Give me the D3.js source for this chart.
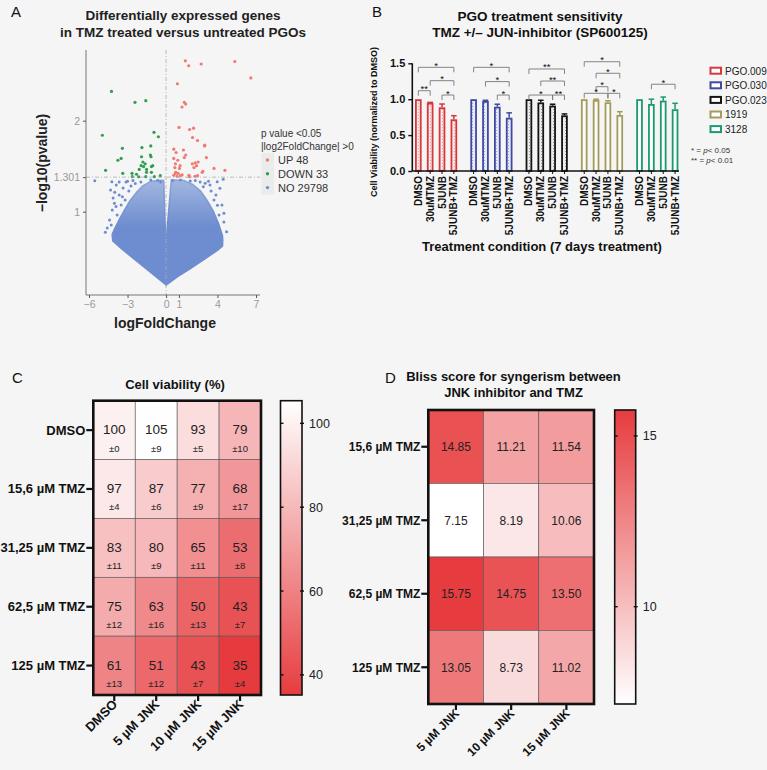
<!DOCTYPE html>
<html><head><meta charset="utf-8">
<script src="https://cdn.jsdelivr.net/npm/d3@7"></script>
<style>
body{margin:0;background:#f5f5f5;}
svg{display:block;font-family:"Liberation Sans",Arial,Helvetica,sans-serif;}
</style></head><body>
<svg id="fig" width="767" height="770"></svg>
<script>
// ---------------- DATA ----------------
// Panel A: volcano plot (logFoldChange, -log10 p)
const upGenes = [[1.50,3.155],[1.76,3.04],[2.73,3.08],[5.35,3.14],[6.60,2.77],[0.88,2.65],[1.42,2.30],[1.53,2.27],[1.24,2.22],[1.01,1.90],[1.83,1.87],[2.14,1.89],[2.06,1.76],[2.45,1.72],[3.01,1.66],[2.99,1.65],[0.60,1.61],[0.78,1.57],[1.35,1.60],[1.53,1.54],[1.42,1.51],[0.60,1.50],[0.91,1.48],[3.14,1.51],[0.73,1.44],[1.09,1.42],[2.04,1.44],[2.27,1.45],[2.50,1.46],[0.68,1.40],[1.04,1.39],[2.17,1.40],[2.37,1.42],[3.73,1.39],[4.58,1.37],[0.75,1.35],[0.94,1.34],[2.81,1.35],[0.60,1.32],[1.12,1.316],[1.78,1.32],[2.45,1.316],[0.73,1.34],[0.86,1.31],[1.25,1.325],[1.81,1.306],[2.25,1.31],[2.86,1.36]];
const downGenes = [[-4.25,2.50],[-2.42,2.30],[-1.58,2.33],[-4.96,1.79],[-0.94,1.83],[-0.60,1.77],[-3.40,1.62],[-3.75,1.48],[-3.50,1.50],[-1.88,1.63],[-1.19,1.65],[-1.91,1.52],[-1.22,1.54],[-1.17,1.52],[-1.81,1.46],[-1.63,1.44],[-1.75,1.41],[-1.14,1.41],[-4.71,1.37],[-3.37,1.34],[-2.09,1.38],[-1.52,1.38],[-1.52,1.35],[-1.14,1.35],[-2.63,1.306],[-2.14,1.305],[-1.58,1.306],[-0.91,1.306],[-0.45,1.316],[-2.65,1.34],[-1.94,1.42],[-1.04,1.42],[-2.30,1.33]];
// envelope of the dense non-significant cloud
const noCloudLeft = [[0,0.572],[-1.2,0.63],[-2.4,0.692],[-3.5,0.756],[-4.15,0.80],[-4.2,0.84],[-4.0,0.88],[-3.6,0.95],[-3.2,1.02],[-2.8,1.09],[-2.3,1.16],[-1.8,1.22],[-1.2,1.26],[-0.6,1.27],[-0.17,1.27],[-0.05,0.85]];
const noCloudRight = [[0,0.572],[0.9,0.61],[1.8,0.644],[3.0,0.697],[4.0,0.745],[4.4,0.77],[4.4,0.83],[4.1,0.91],[3.7,1.0],[3.2,1.09],[2.7,1.17],[2.1,1.23],[1.4,1.27],[0.4,1.275],[0.05,0.85]];
const noScatter = [[-5.55,1.266],[-4.73,0.855],[-4.58,0.883],[-4.40,0.939],[-4.27,0.904],[-4.19,1.013],[-4.02,1.066],[-4.12,1.110],[-4.32,1.180],[-4.22,1.257],[-3.88,1.226],[-3.65,1.254],[-3.35,1.198],[-3.12,1.254],[-2.73,1.217],[-3.65,1.136],[-3.19,1.093],[-3.81,0.975],[-3.5,1.052],[-2.58,1.268],[-1.96,1.254],[-1.19,1.273],[-0.65,1.268],[-0.42,1.254],[-3.9,1.04],[-3.4,1.12],[-2.9,1.17],[-2.4,1.24],[-4.0,1.16],[-3.0,1.26],
  [4.45,1.280],[3.98,1.257],[4.19,1.195],[3.88,1.136],[4.5,0.988],[4.71,0.858],[4.35,1.052],[3.42,1.226],[3.04,1.243],[2.65,1.254],[2.27,1.268],[1.88,1.264],[1.12,1.273],[0.5,1.268],[3.73,1.093],[4.12,0.975],[4.5,0.924],[4.35,0.806],[3.5,1.17],[2.9,1.21],[4.0,1.05],[3.3,1.26]];
const volcanoXTicks = [-6,-3,0,1,4,7];
const volcanoYTicks = [1,1.301,2];
const volcanoLegend = ["UP 48","DOWN 33","NO 29798"];

// Panel B: bar chart
const pgoLines = ["PGO.009","PGO.030","PGO.023","1919","3128"];
const treatments = ["DMSO","30uMTMZ","5JUNB","5JUNB+TMZ"];
const viabilityMean = [[1,0.95,0.887,0.72],[1,0.975,0.896,0.742],[1,0.955,0.91,0.775],[1,0.99,0.957,0.78],[1,0.933,0.98,0.86]];
const viabilityErr = [[0,0.006,0.046,0.05],[0,0.01,0.034,0.068],[0,0.03,0.02,0.02],[0,0.01,0.022,0.046],[0,0.067,0.05,0.083]];
const viabTicks = [0,0.5,1.0,1.5];
const sigGroup = [0,0,0,0, 1,1,1, 2,2,2,2, 3,3,3,3,3, 4];
const sigFrom = ["DMSO","30uMTMZ","DMSO","5JUNB", "DMSO","30uMTMZ","5JUNB", "DMSO","30uMTMZ","DMSO","5JUNB", "DMSO","30uMTMZ","30uMTMZ","DMSO","5JUNB", "30uMTMZ"];
const sigTo = ["5JUNB+TMZ","5JUNB+TMZ","30uMTMZ","5JUNB+TMZ", "5JUNB+TMZ","5JUNB+TMZ","5JUNB+TMZ", "5JUNB+TMZ","5JUNB+TMZ","5JUNB","5JUNB+TMZ", "5JUNB+TMZ","5JUNB+TMZ","5JUNB","5JUNB","5JUNB+TMZ", "5JUNB+TMZ"];
const sigLabel = ["*","*","**","*", "*","*","*", "**","**","*","**", "*","*","*","*","*", "*"];
const sigLevel = [1.444,1.258,1.118,1.058, 1.444,1.245,1.058, 1.421,1.253,1.058,1.058, 1.522,1.361,1.174,1.082,1.082, 1.208];

// Panel C: viability heatmap
const rowsC = ["DMSO","15,6 µM TMZ","31,25 µM TMZ","62,5 µM TMZ","125 µM TMZ"];
const colsC = ["DMSO","5 µM JNK","10 µM JNK","15 µM JNK"];
const cellViab = [[100,105,93,79],[97,87,77,68],[83,80,65,53],[75,63,50,43],[61,51,43,35]];
const cellViabSD = [[0,9,5,10],[4,6,9,17],[11,9,11,8],[12,16,13,7],[13,12,7,4]];
const viabBarTicks = [100,80,60,40];

// Panel D: Bliss heatmap
const rowsD = ["15,6 µM TMZ","31,25 µM TMZ","62,5 µM TMZ","125 µM TMZ"];
const colsD = ["5 µM JNK","10 µM JNK","15 µM JNK"];
const bliss = [[14.85,11.21,11.54],[7.15,8.19,10.06],[15.75,14.75,13.50],[13.05,8.73,11.02]];
const blissTicks = [15,10];

// ---------------- DRAW ----------------
const svg = d3.select("#fig");
svg.append("rect").attr("width",767).attr("height",770).attr("fill","#f5f5f5");
const defs = svg.append("defs");

function label(t,x,y){svg.append("text").attr("x",x).attr("y",y).attr("font-size",15).attr("fill","#111").text(t);}
label("A",11,17); label("B",372,17); label("C",12,383); label("D",385,383);

// ===== Panel A =====
(function(){
  const g = svg.append("g");
  const x = d3.scaleLinear().domain([-6,7]).range([89,256]);
  const y = d3.scaleLog().domain([1,2]).range([211.7,120.7]);
  const cBlue="#6d8dd0", cRed="#f07a72", cGreen="#2f9e4f";
  g.append("text").attr("x",183).attr("y",20).attr("text-anchor","middle").attr("font-weight","bold").attr("font-size",13.5).attr("fill","#222").text("Differentially expressed genes");
  g.append("text").attr("x",183).attr("y",36.5).attr("text-anchor","middle").attr("font-weight","bold").attr("font-size",13.5).attr("fill","#222").text("in TMZ treated versus untreated PGOs");
  const gradA = defs.append("linearGradient").attr("id","cloudFade").attr("gradientUnits","userSpaceOnUse").attr("x1",0).attr("x2",0).attr("y1",y(0.572)).attr("y2",y(1.28));
  gradA.append("stop").attr("offset",0).attr("stop-color",cBlue).attr("stop-opacity",1);
  gradA.append("stop").attr("offset",0.55).attr("stop-color",cBlue).attr("stop-opacity",1);
  gradA.append("stop").attr("offset",1).attr("stop-color",cBlue).attr("stop-opacity",0.6);
  const line = d3.line().x(d=>x(d[0])).y(d=>y(d[1]));
  [noCloudLeft,noCloudRight].forEach(p=>{
    g.append("path").attr("d",line(p)+"Z").attr("fill","url(#cloudFade)").attr("stroke","url(#cloudFade)").attr("stroke-width",1.5).attr("stroke-linejoin","round");
  });
  g.selectAll(".ns").data(noScatter).join("circle").attr("cx",d=>x(d[0])).attr("cy",d=>y(d[1])).attr("r",1.5).attr("fill",cBlue);
  g.selectAll(".up").data(upGenes).join("circle").attr("cx",d=>x(d[0])).attr("cy",d=>y(d[1])).attr("r",1.6).attr("fill",cRed);
  g.selectAll(".dn").data(downGenes).join("circle").attr("cx",d=>x(d[0])).attr("cy",d=>y(d[1])).attr("r",1.6).attr("fill",cGreen);
  // threshold lines
  g.append("line").attr("x1",x(0)).attr("x2",x(0)).attr("y1",50).attr("y2",295).attr("stroke","#aaa").attr("stroke-dasharray","4,2,1,2").attr("stroke-width",0.8);
  g.append("line").attr("x1",86).attr("x2",260).attr("y1",y(1.301)).attr("y2",y(1.301)).attr("stroke","#aaa").attr("stroke-dasharray","4,2,1,2").attr("stroke-width",0.8);
  // axes
  g.append("line").attr("x1",86).attr("x2",86).attr("y1",50).attr("y2",295).attr("stroke","#555").attr("stroke-width",0.8);
  g.append("line").attr("x1",86).attr("x2",260).attr("y1",295).attr("y2",295).attr("stroke","#555").attr("stroke-width",0.8);
  const xa = g.append("g").attr("transform","translate(0,295)").call(d3.axisBottom(x).tickValues(volcanoXTicks).tickSize(3).tickFormat(d3.format("d")));
  xa.select(".domain").remove();
  xa.selectAll("line").attr("stroke","#555");
  xa.selectAll("text").attr("fill","#999").attr("font-size",10.5).attr("font-family","Liberation Sans, Arial, sans-serif");
  const ya = g.append("g").attr("transform","translate(86,0)").call(d3.axisLeft(y).tickValues(volcanoYTicks).tickSize(3).tickFormat(d=>d===1.301?"1.301":d3.format("d")(d)));
  ya.select(".domain").remove();
  ya.selectAll("line").attr("stroke","#555");
  ya.selectAll("text").attr("fill","#999").attr("font-size",10.5).attr("font-family","Liberation Sans, Arial, sans-serif");
  g.append("text").attr("x",165).attr("y",328).attr("text-anchor","middle").attr("font-weight","bold").attr("font-size",14).attr("fill","#222").text("logFoldChange");
  g.append("text").attr("transform","translate(47,163) rotate(-90)").attr("text-anchor","middle").attr("font-weight","bold").attr("font-size",14).attr("fill","#222").text("\u2212log10(pvalue)");
  // legend
  g.append("text").attr("x",261).attr("y",137).attr("font-size",10).attr("fill","#333").text("p value <0.05");
  g.append("text").attr("x",261).attr("y",149.5).attr("font-size",10).attr("fill","#333").text("|log2FoldChange| >0");
  const lc=[cRed,cGreen,cBlue];
  volcanoLegend.forEach((t,i)=>{
    const cy=160+i*13.8;
    g.append("rect").attr("x",261.5).attr("y",cy-6.9).attr("width",12.5).attr("height",13.8).attr("fill","#ebebeb");
    g.append("circle").attr("cx",267.5).attr("cy",cy).attr("r",1.7).attr("fill",lc[i]);
    g.append("text").attr("x",278).attr("y",cy+4).attr("font-size",11).attr("fill","#333").text(t);
  });
})();

// ===== Panel B =====
(function(){
  const g = svg.append("g");
  const cols = ["#d8383c","#3f4ba3","#151515","#a39c5c","#1c9a6f"];
  const tints = [["#f9e6e6","#e8a5a6"],["#e9eaf5","#a4a8d4"],["#ececec","#9a9a9a"],null,null];
  tints.forEach((t,i)=>{
    if(!t) return;
    const p = defs.append("pattern").attr("id","pat"+i).attr("width",3).attr("height",3).attr("patternUnits","userSpaceOnUse");
    p.append("rect").attr("width",3).attr("height",3).attr("fill",t[0]);
    p.append("rect").attr("x",1).attr("y",1).attr("width",1).attr("height",1).attr("fill",t[1]);
  });
  const y = d3.scaleLinear().domain([0,1.5]).range([171,63.3]);
  const xG = d3.scaleBand().domain(pgoLines).range([412.4,681]).paddingInner(0.143).paddingOuter(0);
  const xC = d3.scaleBand().domain(treatments).range([0,xG.bandwidth()]).paddingInner(0.44).paddingOuter(0.22);
  const bw = xC.bandwidth();
  g.append("text").attr("x",540).attr("y",21).attr("text-anchor","middle").attr("font-weight","bold").attr("font-size",13.5).attr("fill","#111").text("PGO treatment sensitivity");
  g.append("text").attr("x",540).attr("y",37).attr("text-anchor","middle").attr("font-weight","bold").attr("font-size",13.5).attr("fill","#111").text("TMZ +/\u2013 JUN-inhibitor (SP600125)");
  pgoLines.forEach((pg,i)=>{
    treatments.forEach((tr,j)=>{
      const x0 = xG(pg)+xC(tr), v=viabilityMean[i][j], e=viabilityErr[i][j];
      const cx = x0+bw/2;
      if(e>0){
        g.append("line").attr("x1",cx).attr("x2",cx).attr("y1",y(v)).attr("y2",y(v+e)).attr("stroke",cols[i]).attr("stroke-width",1.5);
        g.append("line").attr("x1",cx-2.8).attr("x2",cx+2.8).attr("y1",y(v+e)).attr("y2",y(v+e)).attr("stroke",cols[i]).attr("stroke-width",1.5);
      }
      g.append("rect").attr("x",x0+0.9).attr("y",y(v)+0.9).attr("width",bw-1.8).attr("height",y(0)-y(v)-0.9)
        .attr("fill",tints[i]?"url(#pat"+i+")":"#fbfbfb").attr("stroke",cols[i]).attr("stroke-width",1.8);
      g.append("line").attr("x1",cx).attr("x2",cx).attr("y1",171).attr("y2",174).attr("stroke","#111").attr("stroke-width",1);
      g.append("text").attr("transform",`translate(${cx+3.5},176) rotate(-90)`).attr("text-anchor","end").attr("font-size",10).attr("font-weight","bold").attr("fill","#111").text(tr);
    });
  });
  // significance brackets
  sigGroup.forEach((gi,k)=>{
    const pg=pgoLines[gi];
    const xa = xG(pg)+xC(sigFrom[k])+bw/2, xb = xG(pg)+xC(sigTo[k])+bw/2, yy=y(sigLevel[k]);
    g.append("path").attr("d",`M${xa},${yy+5}V${yy}H${xb}V${yy+5}`).attr("fill","none").attr("stroke","#777").attr("stroke-width",0.9);
    g.append("text").attr("x",(xa+xb)/2).attr("y",yy+1.5).attr("text-anchor","middle").attr("font-size",9.5).attr("fill","#111").text(sigLabel[k]);
  });
  // axes
  g.append("line").attr("x1",412.3).attr("x2",412.3).attr("y1",y(1.5)).attr("y2",171).attr("stroke","#111").attr("stroke-width",1.6);
  g.append("line").attr("x1",412.3).attr("x2",679).attr("y1",171).attr("y2",171).attr("stroke","#111").attr("stroke-width",1.6);
  const ya = g.append("g").attr("transform","translate(412.3,0)").call(d3.axisLeft(y).tickValues(viabTicks).tickSize(4).tickFormat(d3.format(".1f")));
  ya.select(".domain").remove();
  ya.selectAll("line").attr("stroke","#111").attr("stroke-width",1.4);
  ya.selectAll("text").attr("font-size",11).attr("font-weight","bold").attr("fill","#111").attr("font-family","Liberation Sans, Arial, sans-serif");
  g.append("text").attr("transform","translate(377,122) rotate(-90)").attr("text-anchor","middle").attr("font-size",9).attr("font-weight","bold").attr("fill","#111").text("Cell Viability (normalized to DMSO)");
  g.append("text").attr("x",542).attr("y",251).attr("text-anchor","middle").attr("font-size",13).attr("font-weight","bold").attr("fill","#111").text("Treatment condition (7 days treatment)");
  // legend
  pgoLines.forEach((pg,i)=>{
    const cy = 70.7+i*14.6;
    g.append("rect").attr("x",710.5).attr("y",cy-3).attr("width",10.5).attr("height",6).attr("fill","#fff").attr("stroke",cols[i]).attr("stroke-width",2);
    g.append("text").attr("x",725).attr("y",cy+3.8).attr("font-size",10).attr("fill","#222").text(pg);
  });
  const t1 = g.append("text").attr("x",691).attr("y",153).attr("font-size",8).attr("fill","#333");
  t1.append("tspan").text("* = "); t1.append("tspan").attr("font-style","italic").text("p"); t1.append("tspan").text("< 0.05");
  const t2 = g.append("text").attr("x",691).attr("y",163).attr("font-size",8).attr("fill","#333");
  t2.append("tspan").text("** = "); t2.append("tspan").attr("font-style","italic").text("p"); t2.append("tspan").text("< 0.01");
})();

// ===== Heatmap helper =====
function heatmap(opt){
  const g = svg.append("g");
  const x = d3.scaleBand().domain(opt.cols).range([opt.x0,opt.x1]);
  const y = d3.scaleBand().domain(opt.rows).range([opt.y0,opt.y1]);
  // opt.hiColor: colour at the top (max) of the scale; opt.loColor at the minimum
  const color = d3.scaleLinear().domain(opt.domain).range([opt.loColor,opt.hiColor]).interpolate(d3.interpolateRgb);
  opt.rows.forEach((r,i)=>opt.cols.forEach((c,j)=>{
    const v = opt.values[i][j];
    g.append("rect").attr("x",x(c)).attr("y",y(r)).attr("width",x.bandwidth()).attr("height",y.bandwidth()).attr("fill",color(v)).attr("stroke","#555").attr("stroke-width",0.6);
    if(opt.sd){
      g.append("text").attr("x",x(c)+x.bandwidth()/2).attr("y",y(r)+y.bandwidth()/2+4).attr("text-anchor","middle").attr("font-size",13.5).attr("fill","#222").text(v);
      g.append("text").attr("x",x(c)+x.bandwidth()/2).attr("y",y(r)+y.bandwidth()/2+21.5).attr("text-anchor","middle").attr("font-size",9.5).attr("fill","#222").text("\u00b1"+opt.sd[i][j]);
    } else {
      g.append("text").attr("x",x(c)+x.bandwidth()/2).attr("y",y(r)+y.bandwidth()/2+4.5).attr("text-anchor","middle").attr("font-size",12).attr("fill","#222").text(v.toFixed(2));
    }
  }));
  g.append("rect").attr("x",opt.x0).attr("y",opt.y0).attr("width",opt.x1-opt.x0).attr("height",opt.y1-opt.y0).attr("fill","none").attr("stroke","#111").attr("stroke-width",2.6);
  opt.rows.forEach(r=>{
    const cy=y(r)+y.bandwidth()/2;
    g.append("line").attr("x1",opt.x0-7).attr("x2",opt.x0).attr("y1",cy).attr("y2",cy).attr("stroke","#111").attr("stroke-width",2.2);
    g.append("text").attr("x",opt.x0-8).attr("y",cy+4.5).attr("text-anchor","end").attr("font-size",opt.rowFont).attr("font-weight","bold").attr("fill","#111").text(r);
  });
  opt.cols.forEach(c=>{
    const cx=x(c)+x.bandwidth()/2;
    g.append("line").attr("x1",cx).attr("x2",cx).attr("y1",opt.y1).attr("y2",opt.y1+6).attr("stroke","#111").attr("stroke-width",2.2);
    g.append("text").attr("transform",`translate(${cx+4},${opt.y1+10}) rotate(-45)`).attr("text-anchor","end").attr("font-size",opt.rowFont).attr("font-weight","bold").attr("fill","#111").text(c);
  });
  // color bar
  const gid = "grad"+opt.id;
  const gr = defs.append("linearGradient").attr("id",gid).attr("x1",0).attr("x2",0).attr("y1",1).attr("y2",0);
  d3.range(0,1.0001,0.1).forEach(t=>{
    const v = opt.domain[0]+t*(opt.domain[1]-opt.domain[0]);
    gr.append("stop").attr("offset",t).attr("stop-color",color(v));
  });
  const cy = d3.scaleLinear().domain(opt.domain).range([opt.y1,opt.y0]);
  g.append("rect").attr("x",opt.cb0).attr("y",opt.y0).attr("width",opt.cb1-opt.cb0).attr("height",opt.y1-opt.y0).attr("fill",`url(#${gid})`).attr("stroke","#111").attr("stroke-width",1.6);
  opt.ticks.forEach(t=>{
    const yy=cy(t);
    g.append("line").attr("x1",opt.cb0).attr("x2",opt.cb0+3).attr("y1",yy).attr("y2",yy).attr("stroke","#111").attr("stroke-width",1.4);
    g.append("line").attr("x1",opt.cb1-2).attr("x2",opt.cb1+2).attr("y1",yy).attr("y2",yy).attr("stroke","#111").attr("stroke-width",1.4);
    g.append("text").attr("x",opt.cb1+7).attr("y",yy+4.5).attr("font-size",12.5).attr("fill","#222").text(t);
  });
  opt.title.forEach((t,i)=>{
    g.append("text").attr("x",opt.tx).attr("y",opt.ty+i*16.5).attr("text-anchor","middle").attr("font-size",13).attr("font-weight","bold").attr("fill","#111").text(t);
  });
}
heatmap({id:"C",rows:rowsC,cols:colsC,values:cellViab,sd:cellViabSD,domain:[35.2,105.4],loColor:"#e63c3f",hiColor:"#ffffff",x0:93.3,x1:261,y0:400.7,y1:695,cb0:280.5,cb1:302,ticks:viabBarTicks,rowFont:13,title:["Cell viability (%)"],tx:175,ty:388.5});
heatmap({id:"D",rows:rowsD,cols:colsD,values:bliss,sd:null,domain:[7.15,15.76],loColor:"#ffffff",hiColor:"#e63c3f",x0:428.3,x1:594,y0:410,y1:704,cb0:614.7,cb1:635.7,ticks:blissTicks,rowFont:12,title:["Bliss score for syngerism between","JNK inhibitor and TMZ"],tx:513.5,ty:380.5});
</script>
</body></html>
